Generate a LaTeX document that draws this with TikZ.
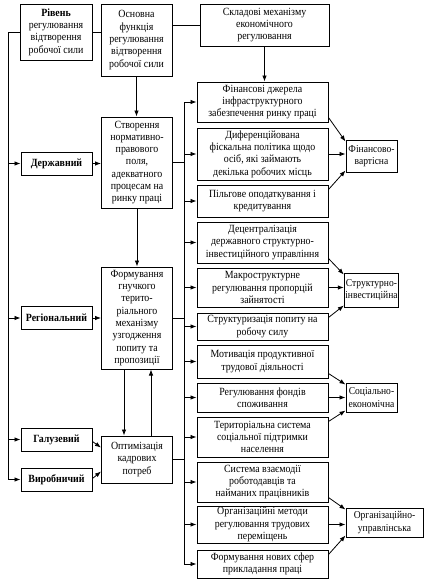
\documentclass[tikz,border=0pt]{standalone}
\usepackage{fontspec}
\setmainfont{Liberation Serif}[FakeStretch=0.9]
\usetikzlibrary{arrows.meta, positioning, calc}

\begin{document}
\begin{tikzpicture}[
    x=1pt, y=-1pt,
    box/.style={draw, rectangle, line width=1pt, align=center, inner sep=1pt, font=\fontsize{11}{12.3}\selectfont},
    level/.style={box, font=\fontsize{11}{12.3}\selectfont\bfseries, minimum width=71pt, minimum height=23pt},
    func/.style={box, minimum width=71pt},
    measure/.style={box, minimum width=131pt},
    kind/.style={box, font=\fontsize{10.6}{12.3}\selectfont, minimum width=51pt},
    link/.style={line width=0.8pt},
    arr/.style={link, -{Latex[length=6pt, width=4.5pt]}}
]
\useasboundingbox (0,0) rectangle (434,587);

% Nodes
\node[box, minimum width=72pt, minimum height=56pt] (level) at (56,32) {\textbf{Рівень}\\регулювання\\відтворення\\робочої сили};
\node[func, minimum height=72pt] (basic) at (136.5,40) {Основна\\функція\\регулювання\\відтворення\\робочої сили};
\node[box, minimum width=129pt, minimum height=42pt] (parts) at (264.5,25) {Складові механізму\\економічного\\регулювання};

\node[level] (state) at (56.5,163.5) {Державний};
\node[level] (region) at (56.5,318) {Регіональний};
\node[level] (branch) at (56.5,439.5) {Галузевий};
\node[level] (firm) at (56.5,479.5) {Виробничий};

\node[func, minimum height=91pt] (law) at (137,162.5) {Створення\\нормативно-\\правового\\поля,\\адекватного\\процесам на\\ринку праці};
\node[func, minimum height=102pt] (terr) at (137,318) {Формування\\гнучкого\\терито-\\ріального\\механізму\\узгодження\\попиту та\\пропозиції};
\node[func, minimum height=47pt] (staff) at (137,459.5) {Оптимізація\\кадрових\\потреб};

% Measures
\node[measure, minimum height=40pt] (m1) at (262.5,102) {Фінансові джерела\\інфраструктурного\\забезпечення ринку праці};
\node[measure, minimum height=52pt] (m2) at (262.5,154) {Диференційована\\фіскальна політика щодо\\осіб, які займають\\декілька робочих місць};
\node[measure, minimum height=32pt] (m3) at (262.5,201) {Пільгове оподаткування і\\кредитування};
\node[measure, minimum height=41pt] (m4) at (262.5,242.5) {Децентралізація\\державного структурно-\\інвестиційного управління};
\node[measure, minimum height=39pt] (m5) at (262.5,287.5) {Макроструктурне\\регулювання пропорцій\\зайнятості};
\node[measure, minimum height=27pt] (m6) at (262.5,326.5) {Структуризація попиту на\\робочу силу};
\node[measure, minimum height=33pt] (m7) at (262.5,361.5) {Мотивація продуктивної\\трудової діяльності};
\node[measure, minimum height=29pt] (m8) at (262.5,397.5) {Регулювання фондів\\споживання};
\node[measure, minimum height=40pt] (m9) at (262.5,437) {Територіальна система\\соціальної підтримки\\населення};
\node[measure, minimum height=40pt] (m10) at (262.5,482) {Система взаємодії\\роботодавців та\\найманих працівників};
\node[measure, minimum height=37pt] (m11) at (262.5,524.5) {Організаційні методи\\регулювання трудових\\переміщень};
\node[measure, minimum height=28pt] (m12) at (262.5,564) {Формування нових сфер\\прикладання праці};

% Kinds
\node[kind, minimum height=32pt] (k1) at (371.5,156) {Фінансово-\\вартісна};
\node[kind, minimum height=34pt] (k2) at (371.5,290) {Структурно-\\інвестиційна};
\node[kind, minimum height=29pt] (k3) at (371.5,397.5) {Соціально-\\економічна};
\node[kind, minimum width=77pt, minimum height=29pt] (k4) at (384.5,522.5) {Організаційно-\\управлінська};

% Top row
\draw[link] (level.east) -- (level.east -| basic.west);
\draw[link] (parts.west -| basic.east) -- (parts.west);
\draw[arr] (parts.south) -- (parts.south |- m1.north);
\draw[arr] (basic.south) -- (basic.south |- law.north);
\draw[arr] (law.south) -- (law.south |- terr.north);
\draw[arr] ([xshift=-13pt]terr.south) -- ([xshift=-13pt]terr.south |- staff.north);
\draw[arr] ([xshift=14pt]staff.north) -- ([xshift=14pt]staff.north |- terr.south);

% Left bus
\draw[link] (level.west) -- ++(-11,0) coordinate (lbus);
\draw[arr] (lbus) -- (lbus |- firm.west) -- (firm.west);
\draw[arr] (lbus |- state.west) -- (state.west);
\draw[arr] (lbus |- region.west) -- (region.west);
\draw[arr] (lbus |- branch.west) -- (branch.west);

\draw[arr] (state.east) -- (state.east -| law.west);
\draw[arr] (region.east) -- (region.east -| terr.west);
\draw[arr] ([yshift=-2pt]branch.east) -- ([yshift=12pt]staff.west);
\draw[arr] ([yshift=1pt]firm.east) -- ([yshift=-12pt]staff.west);

% Right bus
\draw[link] (law.east) -- ++(11,0) coordinate (rbus);
\draw[link] (terr.east) -- (terr.east -| rbus);
\draw[link] (staff.east) -- (staff.east -| rbus);
\draw[link] (rbus |- m1.west) -- (rbus |- m12.west);
\draw[arr] (rbus |- m1.west) -- (m1.west);
\draw[arr] (rbus |- m2.west) -- (m2.west);
\draw[arr] (rbus |- m3.west) -- (m3.west);
\draw[arr] (rbus |- m4.west) -- (m4.west);
\draw[arr] (rbus |- m5.west) -- (m5.west);
\draw[arr] (rbus |- m6.west) -- (m6.west);
\draw[arr] (rbus |- m7.west) -- (m7.west);
\draw[arr] (rbus |- m8.west) -- (m8.west);
\draw[arr] (rbus |- m9.west) -- (m9.west);
\draw[arr] (rbus |- m10.west) -- (m10.west);
\draw[arr] (rbus |- m11.west) -- (m11.west);
\draw[arr] (rbus |- m12.west) -- (m12.west);

% Measures to kinds
\draw[arr] ([yshift=5pt]m1.south east) -- ([yshift=-2pt]k1.north west);
\draw[arr] (m2.east) -- (m2.east -| k1.west);
\draw[arr] ([yshift=-5pt]m3.north east) -- ([yshift=2pt]k1.south west);

\draw[arr] ([yshift=5pt]m4.south east) -- ([yshift=-2pt]k2.north west);
\draw[arr] (m5.east) -- (m5.east -| k2.west);
\draw[arr] ([yshift=-5pt]m6.north east) -- ([yshift=2pt]k2.south west);

\draw[arr] ([yshift=5pt]m7.south east) -- ([yshift=-2pt]k3.north west);
\draw[arr] (m8.east) -- (m8.east -| k3.west);
\draw[arr] ([yshift=-5pt]m9.north east) -- ([yshift=2pt]k3.south west);

\draw[arr] ([yshift=5pt]m10.south east) -- ([yshift=-2pt]k4.north west);
\draw[arr] (m11.east) -- (m11.east -| k4.west);
\draw[arr] ([yshift=-5pt]m12.north east) -- ([yshift=2pt]k4.south west);

\end{tikzpicture}
\end{document}
